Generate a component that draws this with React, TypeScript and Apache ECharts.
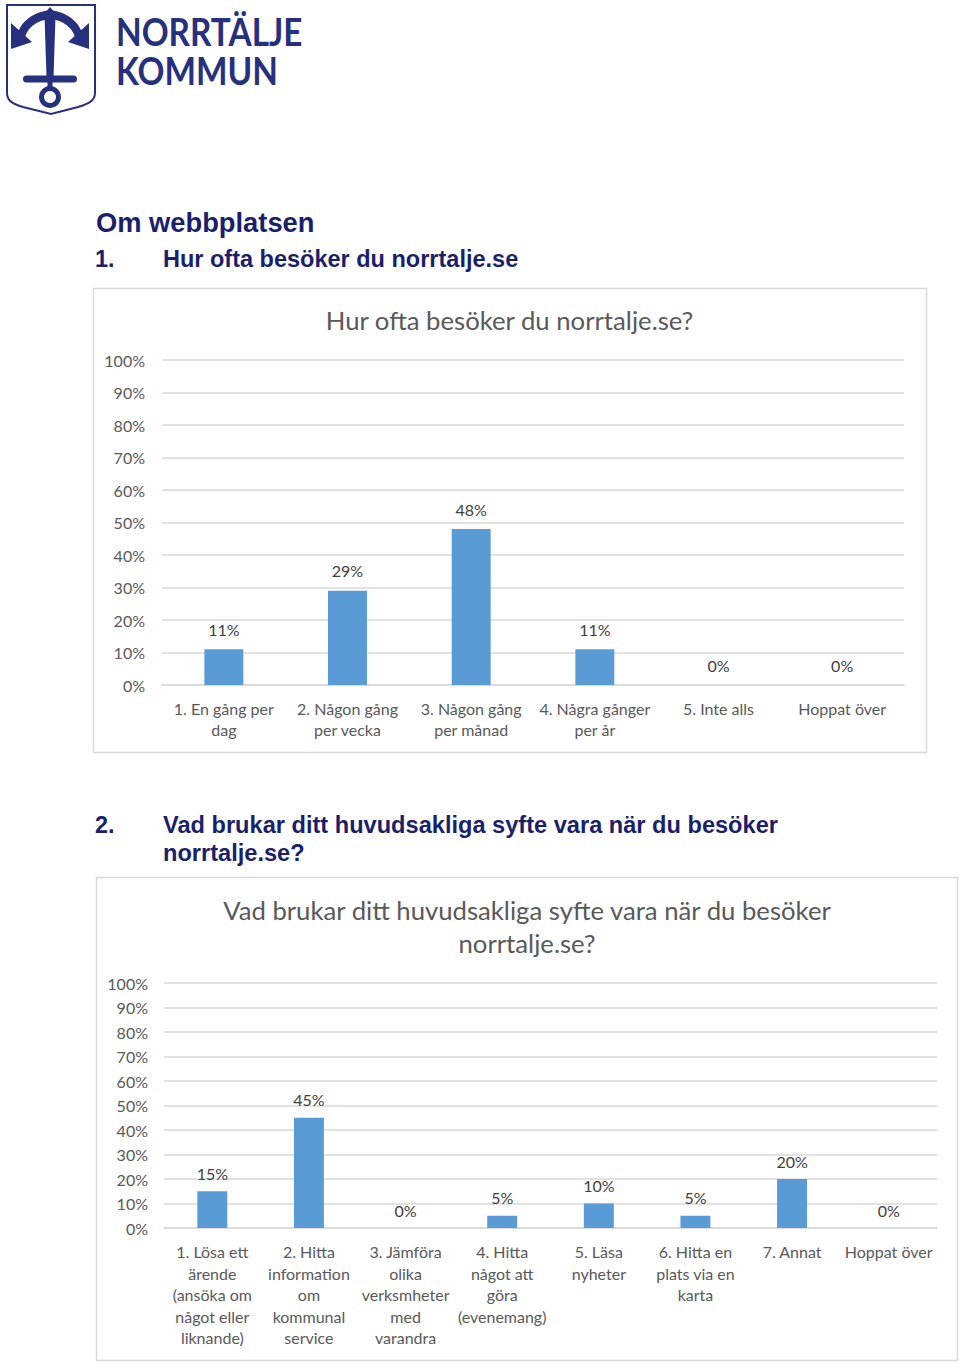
import React, { useEffect, useRef } from "react";
import * as echarts from "echarts";

// ---- Data ----
const q1Categories = [
  "1. En gång per\ndag",
  "2. Någon gång\nper vecka",
  "3. Någon gång\nper månad",
  "4. Några gånger\nper år",
  "5. Inte alls",
  "Hoppat över",
];
const q1Values = [11, 29, 48, 11, 0, 0];

const q2Categories = [
  "1. Lösa ett\närende\n(ansöka om\nnågot eller\nliknande)",
  "2. Hitta\ninformation\nom\nkommunal\nservice",
  "3. Jämföra\nolika\nverksmheter\nmed\nvarandra",
  "4. Hitta\nnågot att\ngöra\n(evenemang)",
  "5. Läsa\nnyheter",
  "6. Hitta en\nplats via en\nkarta",
  "7. Annat",
  "Hoppat över",
];
const q2Values = [15, 45, 0, 5, 10, 5, 20, 0];

const yMin = 0;
const yMax = 100;
const yStep = 10;

const pageHeading = "Om webbplatsen";
const q1Heading = "Hur ofta besöker du norrtalje.se";
const q1Title = "Hur ofta besöker du norrtalje.se?";
const q2HeadingLines = ["Vad brukar ditt huvudsakliga syfte vara när du besöker", "norrtalje.se?"];
const q2TitleLines = ["Vad brukar ditt huvudsakliga syfte vara när du besöker", "norrtalje.se?"];

const NAVY = "#1b1f6b";
const LOGO = "#27307c";
const BAR = "#5b9bd5";
const GRID = "#d9d9d9";
const TXT = "#595959";
const FONT = "Lato, 'Noto Sans', sans-serif";
const HFONT = "'Liberation Sans', Arial, sans-serif";

let registered = false;
function registerShapes() {
  if (registered) return;
  registered = true;
  echarts.graphic.registerShape(
    "shieldShape",
    echarts.graphic.extendPath(
      "M7 5 L95 5 L95 93 C95 101 88 104 78 107 L51 114 L23 107 C13 104 7 101 7 93 Z",
      {}
    )
  );
  echarts.graphic.registerShape(
    "anchorArm",
    echarts.graphic.extendPath(
      "M16 41 C18 22 33 12 50 10 C67 12 82 22 84 41 L76 41 C74 28 63 20 50 19 C37 20 26 28 24 41 Z",
      {}
    )
  );
}

function App() {
  const ref = useRef<HTMLDivElement>(null);

  useEffect(() => {
    if (!ref.current) return;
    registerShapes();
    const chart = echarts.init(ref.current, undefined, { renderer: "svg" });

    const axisLabelBase = { color: TXT, fontFamily: FONT, fontSize: 16 };

    const headingText = (text: string, x: number, y: number, size: number) => ({
      type: "text",
      x,
      y,
      style: {
        text,
        fill: NAVY,
        fontFamily: HFONT,
        fontWeight: "bold",
        fontSize: size,
        align: "left",
        verticalAlign: "middle",
      },
    });

    const titleText = (text: string, x: number, y: number) => ({
      type: "text",
      x,
      y,
      style: {
        text,
        fill: TXT,
        fontFamily: FONT,
        fontSize: 25.7,
        align: "center",
        verticalAlign: "middle",
      },
    });

    const option: any = {
      animation: false,
      backgroundColor: "#ffffff",
      grid: [
        { left: 162, top: 360, width: 742, height: 325 },
        { left: 164, top: 983, width: 773, height: 245 },
      ],
      xAxis: [
        {
          gridIndex: 0,
          type: "category",
          data: q1Categories,
          axisLine: { lineStyle: { color: GRID, width: 1.5 } },
          axisTick: { show: false },
          axisLabel: { ...axisLabelBase, interval: 0, margin: 13, lineHeight: 21 },
        },
        {
          gridIndex: 1,
          type: "category",
          data: q2Categories,
          axisLine: { lineStyle: { color: GRID, width: 1.5 } },
          axisTick: { show: false },
          axisLabel: { ...axisLabelBase, interval: 0, margin: 13, lineHeight: 21.5 },
        },
      ],
      yAxis: [
        {
          gridIndex: 0,
          type: "value",
          min: yMin,
          max: yMax,
          interval: yStep,
          axisLine: { show: false },
          axisTick: { show: false },
          splitLine: { lineStyle: { color: GRID, width: 1.5 } },
          axisLabel: { ...axisLabelBase, margin: 17, formatter: "{value}%" },
        },
        {
          gridIndex: 1,
          type: "value",
          min: yMin,
          max: yMax,
          interval: yStep,
          axisLine: { show: false },
          axisTick: { show: false },
          splitLine: { lineStyle: { color: GRID, width: 1.5 } },
          axisLabel: { ...axisLabelBase, margin: 16, formatter: "{value}%" },
        },
      ],
      series: [
        {
          type: "bar",
          xAxisIndex: 0,
          yAxisIndex: 0,
          data: q1Values,
          barWidth: "31.5%",
          itemStyle: { color: BAR },
          label: {
            show: true,
            position: "top",
            distance: 12,
            formatter: "{c}%",
            color: "#404040",
            fontFamily: FONT,
            fontSize: 16,
          },
        },
        {
          type: "bar",
          xAxisIndex: 1,
          yAxisIndex: 1,
          data: q2Values,
          barWidth: "31%",
          itemStyle: { color: BAR },
          label: {
            show: true,
            position: "top",
            distance: 10,
            formatter: "{c}%",
            color: "#404040",
            fontFamily: FONT,
            fontSize: 16,
          },
        },
      ],
      graphic: [
        // Logo
        {
          type: "shieldShape",
          x: 0,
          y: 0,
          style: { fill: "#ffffff", stroke: LOGO, lineWidth: 2 },
        },
        { type: "anchorArm", x: 0, y: 0, style: { fill: LOGO } },
        { type: "polygon", shape: { points: [[11, 23], [32, 42], [11, 49]] }, style: { fill: LOGO } },
        { type: "polygon", shape: { points: [[89, 23], [68, 42], [89, 49]] }, style: { fill: LOGO } },
        { type: "polygon", shape: { points: [[44, 14], [50, 7], [56, 14]] }, style: { fill: LOGO } },
        { type: "polygon", shape: { points: [[44.5, 16], [55.5, 16], [53.5, 77], [46.5, 77]] }, style: { fill: LOGO } },
        { type: "rect", shape: { x: 23, y: 75.5, width: 54, height: 7, r: 3.5 }, style: { fill: LOGO } },
        { type: "rect", shape: { x: 47.5, y: 81, width: 5, height: 7 }, style: { fill: LOGO } },
        { type: "ring", shape: { cx: 50, cy: 97, r: 11, r0: 6 }, style: { fill: LOGO } },
        {
          type: "text",
          x: 116,
          y: 31,
          scaleX: 0.855,
          style: { text: "NORRTÄLJE", fill: LOGO, fontFamily: FONT, fontWeight: "bold", fontSize: 39, align: "left", verticalAlign: "middle" },
        },
        {
          type: "text",
          x: 116,
          y: 70,
          scaleX: 0.855,
          style: { text: "KOMMUN", fill: LOGO, fontFamily: FONT, fontWeight: "bold", fontSize: 39, align: "left", verticalAlign: "middle" },
        },
        // Headings
        headingText(pageHeading, 96, 222, 27.3),
        headingText("1.", 95, 259, 23.5),
        headingText(q1Heading, 163, 259, 23.5),
        headingText("2.", 95, 825, 23.5),
        headingText(q2HeadingLines[0], 163, 825, 23.6),
        headingText(q2HeadingLines[1], 163, 853, 23.6),
        // Chart boxes
        {
          type: "rect",
          shape: { x: 93.5, y: 288.5, width: 833, height: 464 },
          style: { fill: "none", stroke: GRID, lineWidth: 1.5 },
        },
        {
          type: "rect",
          shape: { x: 96.5, y: 877.5, width: 861, height: 483 },
          style: { fill: "none", stroke: GRID, lineWidth: 1.5 },
        },
        // Chart titles
        titleText(q1Title, 509.5, 320),
        titleText(q2TitleLines[0], 527, 910),
        titleText(q2TitleLines[1], 527, 943),
      ],
    };

    chart.setOption(option);
    return () => chart.dispose();
  }, []);

  return (
    <div
      ref={ref}
      style={{ position: "absolute", left: 0, top: 0, width: 960, height: 1364, background: "#fff" }}
    />
  );
}

export default App;
